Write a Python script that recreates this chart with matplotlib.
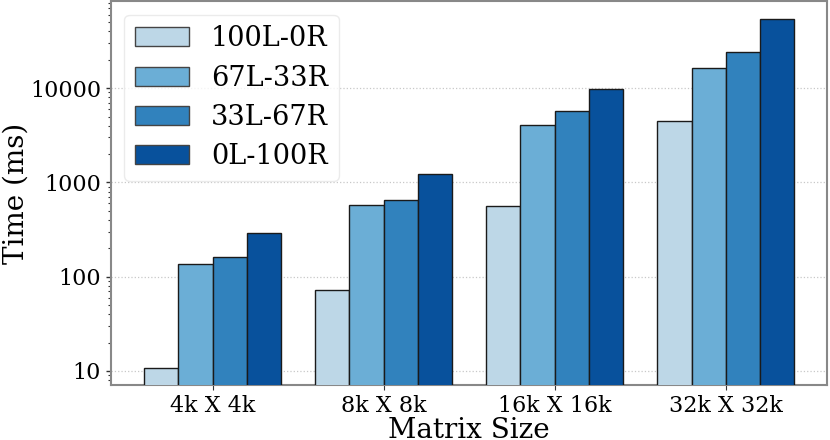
import matplotlib
matplotlib.use("Agg")
import matplotlib.pyplot as plt
import numpy as np

categories = ["4k X 4k", "8k X 8k", "16k X 16k", "32k X 32k"]
series_names = ["100L-0R", "67L-33R", "33L-67R", "0L-100R"]
values_100L_0R = [10.7, 72.7, 563, 4500]
values_67L_33R = [138, 570, 4020, 16200]
values_33L_67R = [160, 644, 5660, 23900]
values_0L_100R = [292, 1233, 9840, 54300]
series_values = [values_100L_0R, values_67L_33R, values_33L_67R, values_0L_100R]
colors = ["#bdd7e7", "#6baed6", "#3182bd", "#08519c"]

plt.rcParams['font.family'] = ['DejaVu Serif']

fig = plt.figure(figsize=(8.3, 4.4), dpi=100)
ax = fig.add_axes([0.1334, 0.1243, 0.996 - 0.1334, 0.9977 - 0.1243])

x = np.arange(len(categories))
width = 0.2
for i, (name, vals) in enumerate(zip(series_names, series_values)):
    ax.bar(x + (i - 1.5) * width, vals, width, color=colors[i],
           edgecolor="#1a1a1a", linewidth=1.0, label=name, zorder=3)

ax.set_yscale("log")
ax.set_ylim(7.05, 84000)
ax.set_xlim(-0.595, 3.59)
ax.set_yticks([10, 100, 1000, 10000])
ax.set_yticklabels(["10", "100", "1000", "10000"])
ax.set_xticks(x)
ax.set_xticklabels(categories)
ax.tick_params(axis="both", labelsize=16, colors="#333333", labelcolor="black")
ax.tick_params(axis="y", which="major", length=3.5, width=1)
ax.tick_params(axis="y", which="minor", length=2, width=0.8, colors="#333333")
ax.tick_params(axis="x", length=3.5)
ax.grid(axis="y", which="major", linestyle=":", color="#c8c8c8", linewidth=0.9, zorder=0)
for s in ax.spines.values():
    s.set_color("#888888")
    s.set_linewidth(1.5)

ax.set_xlabel("Matrix Size", fontsize=20, labelpad=0)
ax.set_ylabel("Time (ms)", fontsize=20)
ax.yaxis.set_label_coords(-0.113, 0.5)

leg = ax.legend(loc="upper left", fontsize=19.5, frameon=True, framealpha=0.8,
                edgecolor="#e6e6e6", borderpad=0.4, labelspacing=0.45,
                handletextpad=0.8)
for h in leg.legend_handles:
    h.set_edgecolor("#444444")

fig.savefig("out.png", dpi=100)
